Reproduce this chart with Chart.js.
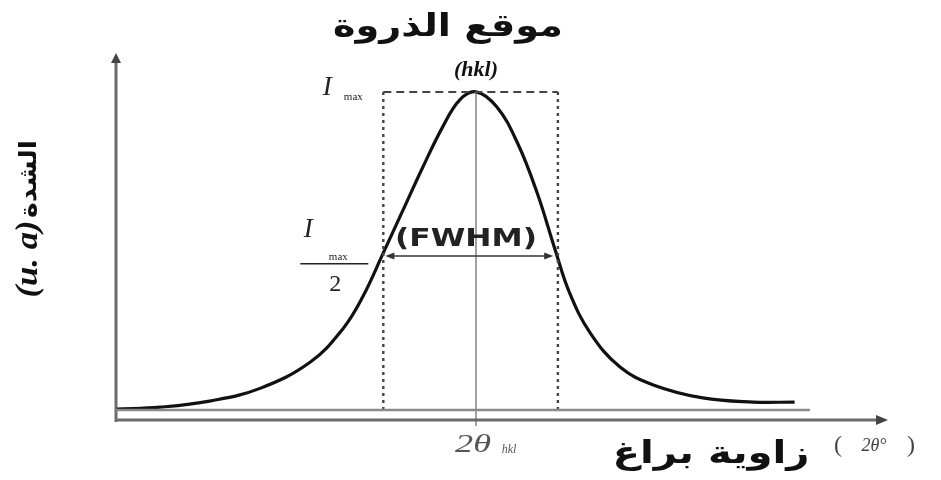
<!DOCTYPE html>
<html>
<head>
<meta charset="utf-8">
<title>موقع الذروة</title>
<script src="https://cdn.jsdelivr.net/npm/chart.js@4.4.1/dist/chart.umd.min.js"></script>
<style>
  html, body { margin: 0; padding: 0; background: #fff; }
  #peak { display: block; }
</style>
</head>
<body>
<canvas id="peak" width="941" height="480"></canvas>
<script>
'use strict';

// diffraction peak profile: angle offset from 2θhkl vs. relative intensity
const angle = [-3.99, -3.51, -2.96, -2.40, -1.84, -1.48, -1.26, -1.03, -0.81, -0.59, -0.37, -0.18,
  0, 0.23, 0.46, 0.68, 0.88, 1.04, 1.27, 1.60, 1.97, 2.52, 3.08, 3.54];
const intensity = [0.003, 0.009, 0.028, 0.068, 0.151, 0.255, 0.355, 0.494, 0.629, 0.764, 0.890, 0.975,
  1.0, 0.953, 0.840, 0.682, 0.503, 0.368, 0.242, 0.135, 0.079, 0.038, 0.025, 0.025];

const peakAngle = 0;
const maxIntensity = 1;
const halfIntensity = 0.484;
const fwhmBounds = [-1.03, 0.91];
const fwhmArrow = [-1.03, 0.88];
const baselineEnd = 3.71;

const xRange = [-4.0, 4.6];
const yRange = [-0.0314, 1.116];

const TITLE = 'موقع الذروة';
const X_TITLE = 'زاوية براغ';
const Y_TITLE = 'الشدة';

const ARABIC_FONT = '"DejaVu Sans"';
const SERIF_FONT = '"Liberation Serif", "DejaVu Serif", serif';

const toPoints = (xs, ys) => xs.map((x, i) => ({ x, y: ys[i] }));

const lineSet = (data, color, width, dash) => ({
  data,
  borderColor: color,
  borderWidth: width,
  borderDash: dash || [],
  pointRadius: 0,
  fill: false,
  tension: 0,
  clip: false,
});

const arrowHead = (ctx, x, y, dir, len, half) => {
  // dir: unit vector the arrow points to
  const [dx, dy] = dir;
  ctx.beginPath();
  ctx.moveTo(x, y);
  ctx.lineTo(x - dx * len - dy * half, y - dy * len + dx * half);
  ctx.lineTo(x - dx * len + dy * half, y - dy * len - dx * half);
  ctx.closePath();
  ctx.fill();
};

const fitText = (ctx, text, x, y, width) => {
  const w = ctx.measureText(text).width;
  ctx.save();
  ctx.translate(x, y);
  ctx.scale(width / w, 1);
  ctx.fillText(text, 0, 0);
  ctx.restore();
};

const sketchPlugin = {
  id: 'peakSketch',
  beforeDatasetsDraw(chart) {
    const { ctx } = chart;
    const xs = chart.scales.x;
    const ys = chart.scales.y;
    const x0 = xs.getPixelForValue(xRange[0]);
    const x1 = xs.getPixelForValue(xRange[1]);
    const y0 = ys.getPixelForValue(yRange[0]);
    const y1 = ys.getPixelForValue(yRange[1]);

    ctx.save();
    ctx.strokeStyle = '#6c6c6c';
    ctx.fillStyle = '#444';
    ctx.lineWidth = 3;
    ctx.beginPath();
    ctx.moveTo(x0, y0 + 2);
    ctx.lineTo(x0, y1 + 6);
    ctx.moveTo(x0, y0);
    ctx.lineTo(x1 - 8, y0);
    ctx.stroke();
    arrowHead(ctx, x0, y1 - 2, [0, -1], 10, 5);
    arrowHead(ctx, x1 - 2, y0, [1, 0], 12, 5);
    ctx.restore();
  },
  afterDraw(chart) {
    const { ctx } = chart;
    const xs = chart.scales.x;
    const ys = chart.scales.y;
    const px = (v) => xs.getPixelForValue(v);
    const py = (v) => ys.getPixelForValue(v);

    ctx.save();

    // FWHM double arrow
    const ay = py(halfIntensity);
    const ax0 = px(fwhmArrow[0]) + 2;
    const ax1 = px(fwhmArrow[1]) - 2;
    ctx.strokeStyle = '#333';
    ctx.fillStyle = '#333';
    ctx.lineWidth = 1.5;
    ctx.beginPath();
    ctx.moveTo(ax0 + 4, ay);
    ctx.lineTo(ax1 - 4, ay);
    ctx.stroke();
    arrowHead(ctx, ax0, ay, [-1, 0], 9, 3.5);
    arrowHead(ctx, ax1, ay, [1, 0], 9, 3.5);

    ctx.textAlign = 'center';
    ctx.textBaseline = 'middle';
    ctx.fillStyle = '#111';

    // title
    ctx.font = 'bold 31px ' + ARABIC_FONT;
    fitText(ctx, TITLE, 448, 28, 230);

    // (hkl)
    ctx.font = 'bold italic 22px ' + SERIF_FONT;
    ctx.fillText('(hkl)', px(peakAngle), 70);

    // I max at the top of the box
    const bx = px(fwhmBounds[0]);
    ctx.fillStyle = '#222';
    ctx.font = 'italic 27px ' + SERIF_FONT;
    ctx.fillText('I', bx - 56, py(maxIntensity) - 4);
    ctx.font = '11px ' + SERIF_FONT;
    ctx.fillText('max', bx - 30, py(maxIntensity) + 5);

    // I max / 2
    ctx.font = 'italic 27px ' + SERIF_FONT;
    ctx.fillText('I', bx - 75, 230);
    ctx.font = '11px ' + SERIF_FONT;
    ctx.fillText('max', bx - 45, 257);
    ctx.fillRect(bx - 83, 263, 68, 1.5);
    ctx.font = '24px ' + SERIF_FONT;
    ctx.fillText('2', bx - 48, 285);

    // (FWHM)
    ctx.fillStyle = '#222';
    ctx.font = 'bold 25px ' + ARABIC_FONT;
    fitText(ctx, '(FWHM)', 466, 239, 142);

    // x axis labels
    ctx.fillStyle = '#555';
    ctx.font = 'italic 25px ' + SERIF_FONT;
    fitText(ctx, '2θ', px(peakAngle) - 3, 445, 36);
    ctx.font = 'italic 12px ' + SERIF_FONT;
    ctx.fillText('hkl', px(peakAngle) + 33, 450);

    ctx.fillStyle = '#111';
    ctx.font = 'bold 31px ' + ARABIC_FONT;
    fitText(ctx, X_TITLE, 711, 455, 197);

    ctx.fillStyle = '#444';
    ctx.font = '24px ' + SERIF_FONT;
    ctx.fillText('(', 838, 446);
    ctx.fillText(')', 911, 446);
    ctx.font = 'italic 18px ' + SERIF_FONT;
    ctx.fillText('2θ°', 874, 446);

    // rotated y axis title, read bottom to top
    ctx.fillStyle = '#111';
    ctx.translate(29, 297);
    ctx.rotate(-Math.PI / 2);
    ctx.font = 'bold italic 31px ' + SERIF_FONT;
    fitText(ctx, '(u. a)', 38, 0, 77);
    ctx.font = 'bold 24px ' + ARABIC_FONT;
    fitText(ctx, Y_TITLE, 118, 1, 78);

    ctx.restore();
  },
};

const datasets = [
  // baseline under the peak
  lineSet(toPoints([xRange[0], baselineEnd], [0, 0]), '#8a8a8a', 2.5),
  // FWHM box
  lineSet(toPoints([fwhmBounds[0], fwhmBounds[1]], [maxIntensity, maxIntensity]), '#444', 2, [8, 5]),
  lineSet(toPoints([fwhmBounds[0], fwhmBounds[0]], [0, maxIntensity]), '#444', 2.4, [3, 4]),
  lineSet(toPoints([fwhmBounds[1], fwhmBounds[1]], [0, maxIntensity]), '#444', 2.4, [3, 4]),
  // peak position marker
  lineSet(toPoints([peakAngle, peakAngle], [maxIntensity, -0.05]), '#666', 1.2),
  // profile
  {
    data: toPoints(angle, intensity),
    borderColor: '#111',
    borderWidth: 3.2,
    pointRadius: 0,
    fill: false,
    tension: 0.4,
    clip: false,
  },
];

new Chart(document.getElementById('peak'), {
  type: 'line',
  data: { datasets },
  options: {
    responsive: false,
    animation: false,
    devicePixelRatio: 1,
    layout: { padding: { left: 116, right: 51, top: 55, bottom: 60 } },
    scales: {
      x: { type: 'linear', min: xRange[0], max: xRange[1], display: false },
      y: { type: 'linear', min: yRange[0], max: yRange[1], display: false },
    },
    plugins: {
      legend: { display: false },
      tooltip: { enabled: false },
    },
  },
  plugins: [sketchPlugin],
});
</script>
</body>
</html>
